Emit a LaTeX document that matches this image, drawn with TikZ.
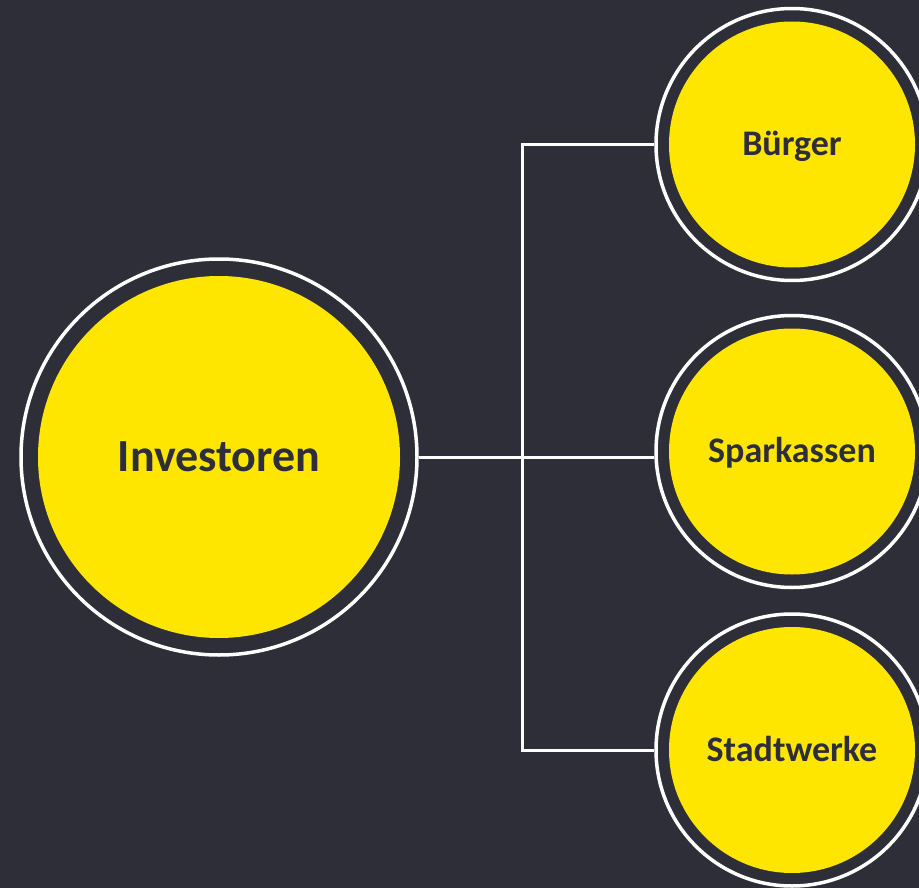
\documentclass[tikz,border=0pt]{standalone}
\usepackage{fontspec}
\setmainfont{Carlito}
\definecolor{slate}{HTML}{2E2E38}
\definecolor{sun}{HTML}{FFE600}
\begin{document}
\begin{tikzpicture}[x=1pt, y=-1pt,
        whitering/.style={circle, draw=white, line width=3.5pt, fill=slate, inner sep=0pt},
        yellowdisc/.style={circle, fill=sun, text=slate, font=\bfseries\fontsize{36}{36}\selectfont,
            inner sep=0pt, text height=22.7pt, text depth=0pt},
        link/.style={draw=white, line width=3pt}]
        \fill[slate] (0,0) rectangle (919,888);
        \useasboundingbox (0,0) rectangle (919,888);

        \node (Ir) [whitering, minimum size=396pt] at (219,457) {};
        \node (I) [yellowdisc, minimum size=362pt, text height=29pt,
            font=\bfseries\fontsize{46}{46}\selectfont] at (Ir) {Investoren};

        \node (Br) [whitering, minimum size=272pt] at (792,144.5) {};
        \node (B) [yellowdisc, minimum size=246pt] at (Br) {Bürger};

        \node (Sr) [whitering, minimum size=272pt] at (792,451.5) {};
        \node (S) [yellowdisc, minimum size=246pt] at (Sr) {Sparkassen};

        \node (Wr) [whitering, minimum size=272pt] at (792,750) {};
        \node (W) [yellowdisc, minimum size=246pt] at (Wr) {Stadtwerke};

        \coordinate (hub) at (522,457);
        \draw[link] (Ir.east) -- (Sr.west |- Ir.east);
        \draw[link] (Br.west) -| (hub) |- (Wr.west);

        \end{tikzpicture}
\end{document}
